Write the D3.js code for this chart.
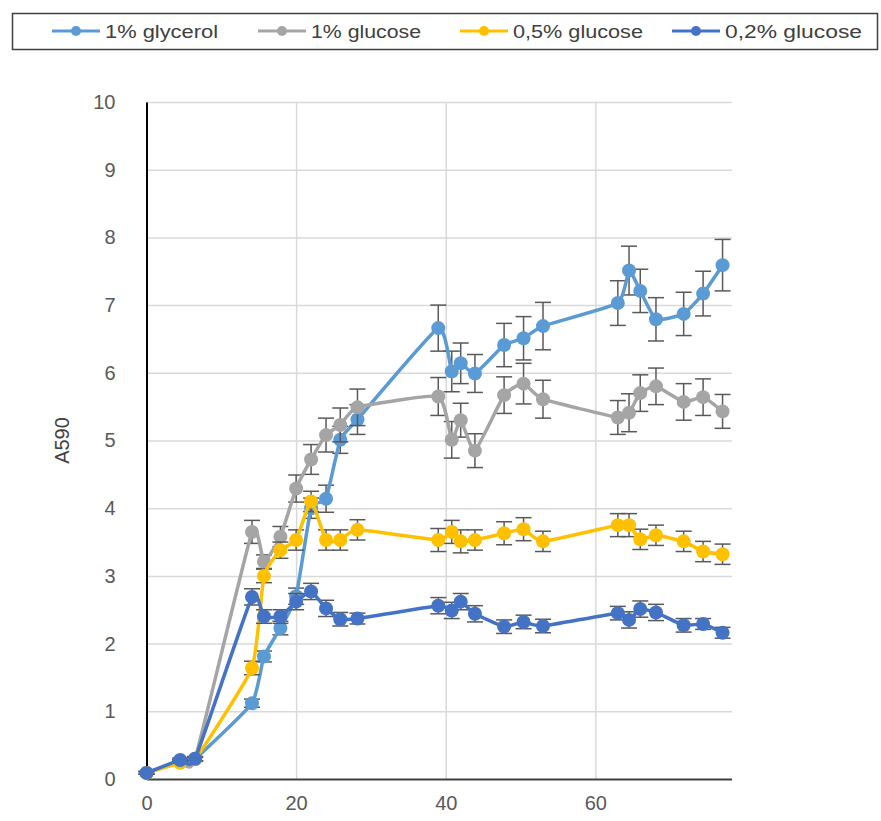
<!DOCTYPE html>
<html>
<head>
<meta charset="utf-8">
<script src="https://cdn.jsdelivr.net/npm/d3@7"></script>
<style>
  body { margin: 0; background: #fff; }
  text { font-family: "Liberation Sans", Arial, sans-serif; }
</style>
</head>
<body>
<svg id="chart" width="881" height="821"></svg>
<script>
// sampling times (h)
var times = [0, 4.5, 6.5, 14.1, 15.7, 17.9, 20, 22, 24, 25.9, 28.2, 39, 40.8, 42, 43.9, 47.8, 50.4, 53, 63, 64.5, 66, 68.1, 71.8, 74.4, 77];

var seriesNames = ['1% glycerol', '1% glucose', '0,5% glucose', '0,2% glucose'];
var seriesColors = ['#5b9bd5', '#a5a5a5', '#ffc000', '#4472c4'];

var glycerol1 = [0.09, 0.26, 0.3, 1.12, 1.81, 2.23, 2.7, 4.0, 4.14, 5.01, 5.31, 6.66, 6.02, 6.14, 5.99, 6.41, 6.51, 6.69, 7.03, 7.51, 7.21, 6.79, 6.87, 7.17, 7.59];
var glucose1 = [0.09, 0.25, 0.3, 3.65, 3.21, 3.58, 4.29, 4.72, 5.08, 5.23, 5.49, 5.65, 5.01, 5.3, 4.85, 5.67, 5.84, 5.61, 5.34, 5.41, 5.7, 5.8, 5.57, 5.64, 5.43];
var glucose05 = [0.09, 0.24, 0.29, 1.64, 3.0, 3.38, 3.53, 4.1, 3.53, 3.53, 3.68, 3.53, 3.65, 3.51, 3.53, 3.63, 3.69, 3.51, 3.75, 3.75, 3.54, 3.6, 3.51, 3.36, 3.32];
var glucose02 = [0.09, 0.28, 0.3, 2.69, 2.4, 2.4, 2.62, 2.77, 2.52, 2.36, 2.37, 2.56, 2.49, 2.62, 2.44, 2.25, 2.32, 2.26, 2.45, 2.35, 2.51, 2.46, 2.27, 2.29, 2.16];

var errGlycerol1 = [0.02, 0.03, 0.03, 0.06, 0.08, 0.1, 0.12, 0.15, 0.2, 0.2, 0.22, 0.34, 0.3, 0.3, 0.28, 0.32, 0.32, 0.35, 0.33, 0.36, 0.32, 0.32, 0.32, 0.33, 0.38];
var errGlucose1 = [0.02, 0.03, 0.03, 0.17, 0.1, 0.15, 0.2, 0.22, 0.25, 0.25, 0.27, 0.28, 0.27, 0.25, 0.25, 0.27, 0.3, 0.28, 0.25, 0.28, 0.27, 0.27, 0.27, 0.27, 0.25];
var errGlucose05 = [0.02, 0.03, 0.03, 0.1, 0.1, 0.12, 0.15, 0.15, 0.15, 0.15, 0.15, 0.17, 0.17, 0.17, 0.15, 0.17, 0.17, 0.15, 0.17, 0.17, 0.15, 0.15, 0.15, 0.15, 0.15];
var errGlucose02 = [0.02, 0.03, 0.03, 0.12, 0.1, 0.1, 0.12, 0.12, 0.12, 0.1, 0.08, 0.12, 0.12, 0.12, 0.12, 0.1, 0.1, 0.1, 0.1, 0.12, 0.12, 0.12, 0.1, 0.08, 0.08];

var xTicks = [0, 20, 40, 60, 80];
var yTicks = [0, 1, 2, 3, 4, 5, 6, 7, 8, 9, 10];

var values = [glycerol1, glucose1, glucose05, glucose02];
var errors = [errGlycerol1, errGlucose1, errGlucose05, errGlucose02];

var series = seriesNames.map(function(name, i) {
  return {
    name: name,
    color: seriesColors[i],
    points: times.map(function(t, j) { return {t: t, v: values[i][j], e: errors[i][j]}; })
  };
});

var svg = d3.select('#chart');

// legend box
var legend = svg.append('g');
legend.append('rect')
  .attr('x', 12.5).attr('y', 13.5).attr('width', 865).attr('height', 36)
  .attr('fill', '#fff').attr('stroke', '#404040').attr('stroke-width', 1.5);

var legendX = [52, 258, 460, 672];
var legendW = [113, 110, 130, 137];
series.forEach(function(s, i) {
  var g = legend.append('g').attr('transform', 'translate(' + legendX[i] + ',31)');
  g.append('line').attr('x1', 0).attr('x2', 48).attr('stroke', s.color).attr('stroke-width', 3);
  g.append('circle').attr('cx', 24).attr('r', 5).attr('fill', s.color);
  g.append('text').attr('x', 53).attr('y', 6.5)
    .attr('font-size', 18).attr('fill', '#404040')
    .attr('textLength', legendW[i]).attr('lengthAdjust', 'spacingAndGlyphs')
    .text(s.name);
});

// plot area
var x = d3.scaleLinear().domain([0, 80]).range([146.5, 745]);
var y = d3.scaleLinear().domain([0, 10]).range([779, 102]);

svg.append('defs').append('clipPath').attr('id', 'cut')
  .append('rect').attr('x', 0).attr('y', 60).attr('width', 732).attr('height', 761);

var chart = svg.append('g').attr('clip-path', 'url(#cut)');

// gridlines
chart.append('g')
  .attr('transform', 'translate(0,' + y(0) + ')')
  .call(d3.axisBottom(x).tickValues(xTicks.slice(1)).tickSize(-(y(0) - y(10))).tickFormat(''))
  .call(function(g) { g.select('.domain').remove(); })
  .selectAll('line').attr('stroke', '#d9d9d9').attr('stroke-width', 1.5);

chart.append('g')
  .attr('transform', 'translate(' + x(0) + ',0)')
  .call(d3.axisLeft(y).tickValues(yTicks.slice(1)).tickSize(-(x(80) - x(0))).tickFormat(''))
  .call(function(g) { g.select('.domain').remove(); })
  .selectAll('line').attr('stroke', '#d9d9d9').attr('stroke-width', 1.5);

// axes
var xAxis = chart.append('g')
  .attr('transform', 'translate(0,' + y(0) + ')')
  .call(d3.axisBottom(x).tickValues(xTicks).tickSize(0).tickPadding(17));
xAxis.select('.domain').attr('stroke', '#404040').attr('stroke-width', 2);
xAxis.selectAll('text').attr('font-size', 20).attr('fill', '#595959').attr('font-family', '"DejaVu Sans", sans-serif');

var yAxis = chart.append('g')
  .attr('transform', 'translate(' + x(0) + ',0)')
  .call(d3.axisLeft(y).tickValues(yTicks).tickSize(0).tickPadding(31));
yAxis.select('.domain').attr('stroke', '#000').attr('stroke-width', 2);
yAxis.selectAll('text').attr('font-size', 20).attr('fill', '#595959').attr('font-family', '"DejaVu Sans", sans-serif');

chart.append('text')
  .attr('transform', 'translate(69,' + (y(5)) + ') rotate(-90)')
  .attr('text-anchor', 'middle')
  .attr('font-size', 20).attr('fill', '#404040')
  .text('A590');

var line = d3.line()
  .x(function(d) { return x(d.t); })
  .y(function(d) { return y(d.v); })
  .curve(d3.curveCardinal.tension(0.55));

series.forEach(function(s) {
  var g = chart.append('g');
  var bars = g.selectAll('.err').data(s.points).enter().append('g').attr('class', 'err')
    .attr('stroke', '#595959').attr('stroke-width', 1.5);
  bars.append('line')
    .attr('x1', function(d) { return x(d.t); }).attr('x2', function(d) { return x(d.t); })
    .attr('y1', function(d) { return y(d.v - d.e); }).attr('y2', function(d) { return y(d.v + d.e); });
  bars.append('line')
    .attr('x1', function(d) { return x(d.t) - 8; }).attr('x2', function(d) { return x(d.t) + 8; })
    .attr('y1', function(d) { return y(d.v + d.e); }).attr('y2', function(d) { return y(d.v + d.e); });
  bars.append('line')
    .attr('x1', function(d) { return x(d.t) - 8; }).attr('x2', function(d) { return x(d.t) + 8; })
    .attr('y1', function(d) { return y(d.v - d.e); }).attr('y2', function(d) { return y(d.v - d.e); });

  g.append('path').datum(s.points)
    .attr('d', line).attr('fill', 'none')
    .attr('stroke', s.color).attr('stroke-width', 3.5);

  g.selectAll('.pt').data(s.points).enter().append('circle').attr('class', 'pt')
    .attr('cx', function(d) { return x(d.t); })
    .attr('cy', function(d) { return y(d.v); })
    .attr('r', 7).attr('fill', s.color);
});
</script>
</body>
</html>
